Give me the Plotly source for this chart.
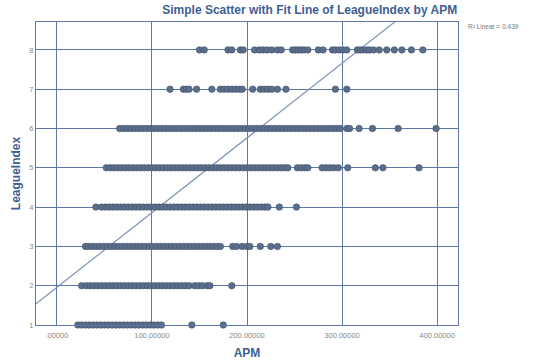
import plotly.graph_objects as go

league_levels = [1, 2, 3, 4, 5, 6, 7, 8]

apm_league1 = [22, 26, 30, 34, 38, 42, 46, 50, 54, 58, 62, 66, 70, 74, 78, 82, 86, 90, 94, 98,
               102, 106, 110, 142, 175]
apm_league2 = [26, 31, 35, 39, 43, 47, 51, 55, 59, 63, 67, 71, 75, 79, 83, 87, 91, 95, 99, 103,
               107, 111, 115, 119, 123, 127, 131, 135, 139, 145, 149, 153, 158, 161, 184]
apm_league3 = [30, 33, 37, 41, 45, 49, 53, 57, 61, 65, 69, 73, 77, 81, 85, 89, 93, 97, 101, 105,
               109, 113, 117, 121, 125, 129, 133, 137, 141, 145, 149, 153, 157, 161, 165, 169, 172,
               185, 189, 195, 200, 203, 214, 225, 232]
apm_league4 = [41, 47, 51, 55, 59, 63, 67, 71, 75, 79, 83, 87, 91, 95, 99, 103, 107, 111, 115, 119,
               123, 127, 131, 135, 139, 143, 147, 151, 155, 159, 163, 167, 171, 175, 179, 183, 187,
               191, 195, 199, 203, 207, 211, 215, 219, 222, 234, 252]
apm_league5 = [52, 56, 60, 64, 68, 72, 76, 80, 84, 88, 92, 96, 100, 104, 108, 112, 116, 120, 124,
               128, 132, 136, 140, 144, 148, 152, 156, 160, 164, 168, 172, 176, 180, 184, 188, 192,
               196, 200, 204, 208, 212, 216, 220, 224, 228, 232, 236, 240, 243, 253, 257, 261, 264,
               279, 283, 287, 291, 296, 306, 335, 343, 381]
apm_league6 = [66, 70, 74, 78, 82, 86, 90, 94, 98, 102, 106, 110, 114, 118, 122, 126, 130, 134, 138,
               142, 146, 150, 154, 158, 162, 166, 170, 174, 178, 182, 186, 190, 194, 198, 202, 206,
               210, 214, 218, 222, 226, 230, 234, 238, 242, 246, 250, 254, 258, 262, 266, 270, 274,
               278, 282, 286, 290, 294, 298, 305, 308, 318, 332, 359, 399]
apm_league7 = [119, 133, 136, 139, 147, 163, 172, 176, 180, 184, 188, 192, 195, 206, 214, 218, 222,
               226, 232, 241, 293, 305]
apm_league8 = [150, 155, 180, 184, 193, 196, 208, 213, 217, 221, 226, 232, 236, 248, 251, 254, 257,
               260, 264, 275, 280, 290, 293, 297, 301, 305, 316, 319, 322, 326, 329, 333, 339, 347,
               355, 363, 373, 385]

apm_groups = [apm_league1, apm_league2, apm_league3, apm_league4,
              apm_league5, apm_league6, apm_league7, apm_league8]

fit_intercept = 1.96
fit_slope = 0.0190
r2_text = "R² Linear = 0.439"

x_ticks = [0, 100, 200, 300, 400]
x_tick_labels = [".00000", "100.00000", "200.00000", "300.00000", "400.00000"]
y_ticks = [1, 2, 3, 4, 5, 6, 7, 8]

x_range = [-22, 422]
y_range = [1, 8.71]

xs, ys = [], []
for lvl, grp in zip(league_levels, apm_groups):
    xs.extend(grp)
    ys.extend([lvl] * len(grp))

grid_c = "#5f78a8"
title_c = "#3e5f94"

fig = go.Figure()
fig.add_trace(go.Scatter(
    x=[x_range[0], x_range[1]],
    y=[fit_intercept + fit_slope * x_range[0], fit_intercept + fit_slope * x_range[1]],
    mode="lines", line=dict(color="#7d93b6", width=1.2), hoverinfo="skip", showlegend=False,
))
fig.add_trace(go.Scatter(
    x=xs, y=ys, mode="markers",
    marker=dict(size=6.5, color="#5a6d8b", line=dict(color="#44546e", width=0.6)),
    showlegend=False, cliponaxis=False,
))

fig.update_layout(
    width=533, height=361,
    margin=dict(l=36, r=75, t=22, b=36, autoexpand=False),
    paper_bgcolor="white", plot_bgcolor="white",
    title=dict(text="<b>Simple Scatter with Fit Line of LeagueIndex by APM</b>",
               x=0.581, xanchor="center", y=0.985, yanchor="top",
               font=dict(family="Arial", size=12, color=title_c)),
    font=dict(family="Arial"),
    annotations=[dict(text=r2_text, xref="paper", yref="paper", x=1.02, y=0.985,
                      xanchor="left", yanchor="middle", showarrow=False,
                      font=dict(size=6.5, color="#777777"))],
)
fig.update_xaxes(
    range=x_range, tickvals=x_ticks, ticktext=x_tick_labels,
    showgrid=True, gridcolor=grid_c, gridwidth=1,
    showline=True, linecolor=grid_c, linewidth=1, mirror=True,
    zeroline=False, ticks="", automargin=False, ticklabelstandoff=3,
    tickfont=dict(size=7.5, color="#888888"),
    title=dict(text="<b>APM</b>", font=dict(size=12, color=title_c), standoff=9),
)
fig.update_yaxes(
    range=y_range, tickvals=y_ticks,
    showgrid=True, gridcolor=grid_c, gridwidth=1,
    showline=True, linecolor=grid_c, linewidth=1, mirror=True,
    zeroline=False, ticks="", automargin=False,
    tickfont=dict(size=7.5, color="#888888"),
    title=dict(text="<b>LeagueIndex</b>", font=dict(size=12, color=title_c), standoff=6),
)

fig.write_html("out.html", config={"displayModeBar": False},
               post_script="document.body.style.margin='0';document.body.style.overflow='hidden';")
